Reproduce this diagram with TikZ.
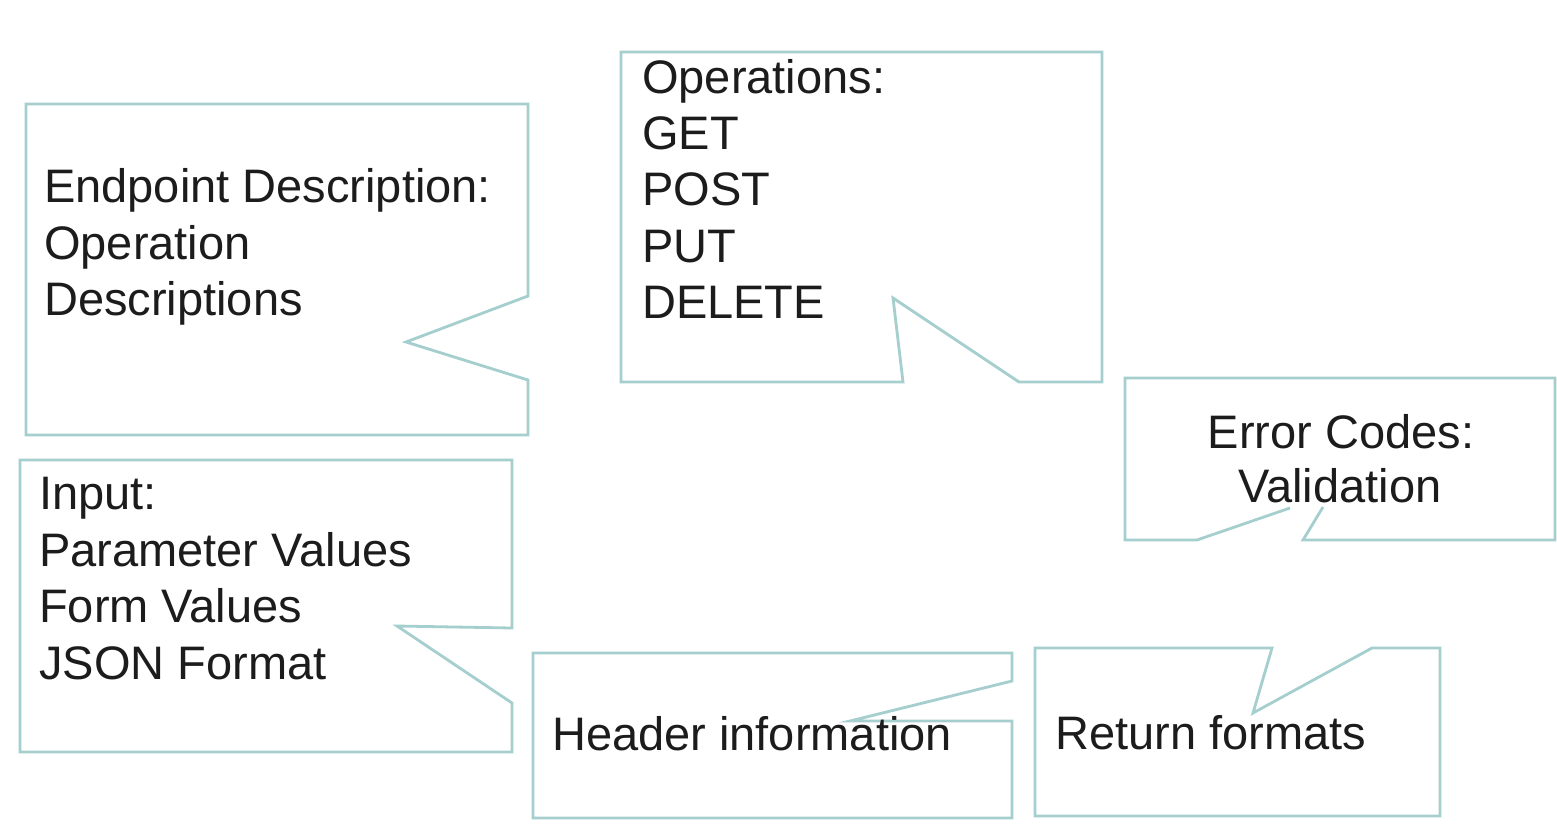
\documentclass[tikz,border=0pt]{standalone}
\usepackage{fontspec}
\setmainfont{Liberation Sans}
\definecolor{calloutline}{RGB}{165,206,206}
\definecolor{ink}{RGB}{28,28,28}
\begin{document}
\begin{tikzpicture}[x=1pt,y=-1pt,
  callout/.style={draw=calloutline, line width=2.8pt, line join=miter},
  txt/.style={anchor=base west, inner sep=0pt, text=ink,
              font=\fontsize{47}{56}\selectfont},
  ctxt/.style={txt, anchor=base}]
\fill[white] (0,0) rectangle (1557,838);
\useasboundingbox (0,0) rectangle (1557,838);

% callout: endpoint description (notch on the right side)
\draw[callout] (26,104) -- (528,104) -- (528,296) -- (406,342) -- (528,380)
  -- (528,435) -- (26,435) -- cycle;
\node[txt] (ep1) at (44,202) {Endpoint Description:};
\node[txt] (ep2) at (44,259) {Operation};
\node[txt] (ep3) at (44,315) {Descriptions};

% callout: operations (notch on the bottom)
\draw[callout] (621,52) -- (1102,52) -- (1102,382) -- (1019,382) -- (893,298)
  -- (903,382) -- (621,382) -- cycle;
\node[txt] (op1) at (642,93) {Operations:};
\node[txt] (op2) at (642,149) {GET};
\node[txt] (op3) at (642,205) {POST};
\node[txt] (op4) at (642,262) {PUT};
\node[txt] (op5) at (642,318) {DELETE};

% callout: error codes (notch tip hidden under the text)
\draw[callout] (1323,507) -- (1303,540) -- (1555,540) -- (1555,378)
  -- (1125,378) -- (1125,540) -- (1197,540) -- (1290,508);
\node[ctxt] (er1) at (1341,448) {Error Codes:};
\node[ctxt] (er2) at (1340,502) {Validation};

% callout: input
\draw[callout] (20,460) -- (512,460) -- (512,628) -- (397,626) -- (512,703)
  -- (512,752) -- (20,752) -- cycle;
\node[txt] (in1) at (39,509) {Input:};
\node[txt] (in2) at (39,566) {Parameter Values};
\node[txt] (in3) at (39,622) {Form Values};
\node[txt] (in4) at (39,679) {JSON Format};

% callout: header information
\draw[callout] (533,653) -- (1012,653) -- (1012,681) -- (850,721) -- (1012,721)
  -- (1012,818) -- (533,818) -- cycle;
\node[txt] (hd) at (552,750) {Header information};

% callout: return formats (notch on the top)
\draw[callout] (1035,648) -- (1272,648) -- (1253,713) -- (1372,648) -- (1440,648)
  -- (1440,816) -- (1035,816) -- cycle;
\node[txt] (rf) at (1055,749) {Return formats};
\end{tikzpicture}
\end{document}
